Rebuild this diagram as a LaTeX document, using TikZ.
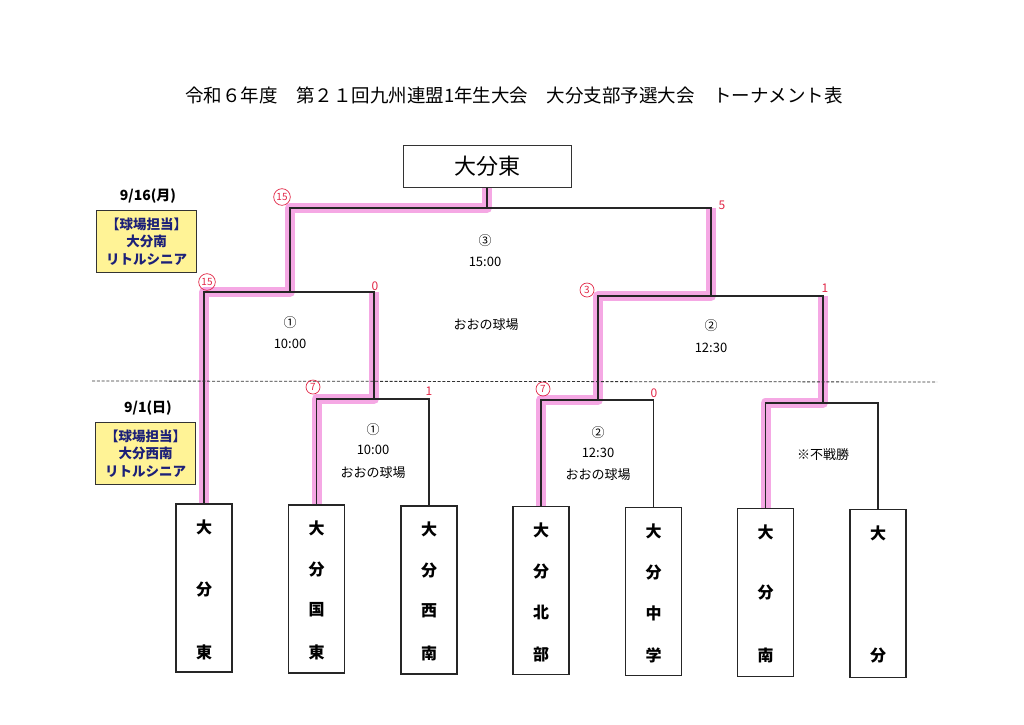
\documentclass[tikz,border=0pt]{standalone}
\usepackage{fontspec}
\setmainfont{Noto Sans CJK JP}
\usetikzlibrary{calc}
\definecolor{hl}{RGB}{245,168,228}
\definecolor{score}{RGB}{226,40,72}
\definecolor{note}{RGB}{255,243,150}
\definecolor{navy}{RGB}{28,32,120}
\begin{document}
\begin{tikzpicture}[x=1pt,y=-1pt,
  bracket/.style={draw=black!85, line width=1.1pt},
  hlpath/.style={draw=hl, line width=10pt, line join=round},
  team/.style={draw=black!85, line width=1.1pt, minimum width=56pt, minimum height=168pt, inner sep=0pt},
  tchar/.style={font=\fontsize{16}{16}\selectfont\bfseries, inner sep=0pt},
  notebox/.style={draw=black!80, fill=note, line width=0.8pt, minimum width=100pt, minimum height=62pt, inner sep=0pt},
  notetxt/.style={font=\fontsize{13.5}{17.5}\selectfont\bfseries, text=navy, align=center, inner sep=0pt},
  datetxt/.style={font=\fontsize{14}{14}\selectfont\bfseries, inner sep=0pt},
  info/.style={font=\fontsize{13}{14}\selectfont, inner sep=0pt},
  circsc/.style={draw=score, circle, line width=0.7pt, inner sep=1.2pt, minimum size=14pt, text=score, font=\fontsize{10}{10}\selectfont},
  plainsc/.style={text=score, font=\fontsize{12}{12}\selectfont, inner sep=0pt}
]
\path[fill=white] (0,0) rectangle (1024,724);
\useasboundingbox (0,0) rectangle (1024,724);

% title
\node[font=\fontsize{18.5}{18.5}\selectfont, inner sep=0pt] (title) at (514,95)
  {令和６年度\hspace{1em}第２１回九州連盟1年生大会\hspace{1em}大分支部予選大会\hspace{1em}トーナメント表};

% winner box
\node[draw=black!80, line width=0.9pt, minimum width=168pt, minimum height=42pt, inner sep=0pt,
  font=\fontsize{22}{22}\selectfont] (win) at (487,166.5) {大分東};

% team boxes
\node[team] (tE)  at (204,588) {};
\node[team] (tKE) at (316.5,589) {};
\node[team] (tSN) at (429,590) {};
\node[team] (tNB) at (541,590.5) {};
\node[team] (tCG) at (653.5,591.5) {};
\node[team] (tMN) at (765.5,592.5) {};
\node[team] (tO)  at (878,593.5) {};

% team names
\node[tchar] at (204,527) {大}; \node[tchar] at (204,590) {分}; \node[tchar] at (204,652) {東};
\node[tchar] at (316.5,528) {大}; \node[tchar] at (316.5,570) {分}; \node[tchar] at (316.5,610) {国}; \node[tchar] at (316.5,652) {東};
\node[tchar] at (429,529) {大}; \node[tchar] at (429,571) {分}; \node[tchar] at (429,611) {西}; \node[tchar] at (429,653) {南};
\node[tchar] at (541,530) {大}; \node[tchar] at (541,572) {分}; \node[tchar] at (541,612) {北}; \node[tchar] at (541,654) {部};
\node[tchar] at (653.5,531) {大}; \node[tchar] at (653.5,573) {分}; \node[tchar] at (653.5,613) {中}; \node[tchar] at (653.5,655) {学};
\node[tchar] at (765.5,532) {大}; \node[tchar] at (765.5,593) {分}; \node[tchar] at (765.5,655) {南};
\node[tchar] at (878,533) {大}; \node[tchar] at (878,656) {分};

% junction coordinates
\coordinate (fm)  at (487,208);
\coordinate (fR)  at (711,208);
\coordinate (s1m) at (290,292);
\coordinate (s1R) at (374,292);
\coordinate (s2m) at (711,296);
\coordinate (s2R) at (823,296);
\coordinate (r1m) at (374,399);
\coordinate (r1R) at (429,399);
\coordinate (r2m) at (598,400);
\coordinate (r2R) at (653.5,400);
\coordinate (r3m) at (823,403);
\coordinate (r3R) at (878,403);
\coordinate (dashL) at (92,381);
\coordinate (dashR) at (937,382);

% pink highlights (winners' paths)
\draw[hlpath] (tE.north) |- (s1m) |- (fm) -- (win.south);
\draw[hlpath] (tKE.north) |- (r1m) -- (s1R);
\draw[hlpath] (tNB.north) |- (r2m) |- (s2m) -- (fR);
\draw[hlpath] (tMN.north) |- (r3m) -- (s2R);

% bracket lines
\draw[bracket] (win.south) -- (fm);
\draw[bracket] (s1m) |- (fR) -- (s2m);
\draw[bracket] (tE.north) |- (s1R) -- (r1m);
\draw[bracket] (tKE.north) |- (r1R) -- (tSN.north);
\draw[bracket] (r2m) |- (s2R) -- (r3m);
\draw[bracket] (tNB.north) |- (r2R) -- (tCG.north);
\draw[bracket] (tMN.north) |- (r3R) -- (tO.north);

% day separator
\draw[black!80, line width=0.8pt, dash pattern=on 3pt off 1.8pt] (dashL) -- (dashR);

% left notes
\node[datetxt] (d1) at (148,196) {9/16(月)};
\node[notebox] (n1) at (146.5,241.5) {};
\node[notetxt] at (n1.center) {【球場担当】\\大分南\\リトルシニア};
\node[datetxt] (d2) at (148,408) {9/1(日)};
\node[notebox] (n2) at (145.5,453.5) {};
\node[notetxt] at (n2.center) {【球場担当】\\大分西南\\リトルシニア};

% match info
\node[info] at (485,241) {③};
\node[info] at (485,262) {15:00};
\node[info] at (290,323) {①};
\node[info] at (290,344) {10:00};
\node[info] at (486,325) {おおの球場};
\node[info] at (711,326) {②};
\node[info] at (711,348) {12:30};
\node[info] at (373,430) {①};
\node[info] at (373,450) {10:00};
\node[info] at (373,473) {おおの球場};
\node[info] at (598,433) {②};
\node[info] at (598,453) {12:30};
\node[info] at (598,475) {おおの球場};
\node[info] at (823,455) {※不戦勝};

% handwritten scores
\node[circsc] at (282,197) {15};
\node[circsc] at (207,282) {15};
\node[plainsc] at (375,286) {0};
\node[plainsc] at (722,205) {5};
\node[circsc] at (587,290) {3};
\node[plainsc] at (825,288) {1};
\node[circsc] at (313,387) {7};
\node[plainsc] at (429,391) {1};
\node[circsc] at (543,389) {7};
\node[plainsc] at (654,393) {0};
\end{tikzpicture}
\end{document}
